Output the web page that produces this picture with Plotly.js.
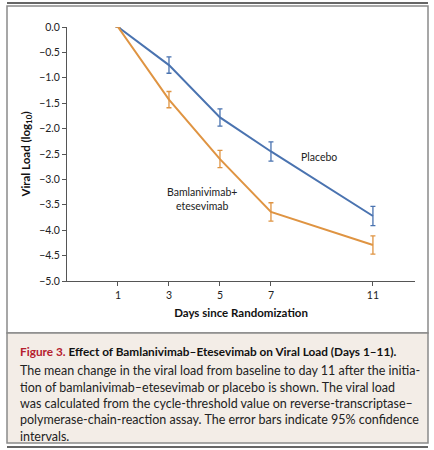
<!DOCTYPE html>
<html>
<head>
<meta charset="utf-8">
<script src="https://cdn.plot.ly/plotly-3.0.1.min.js"></script>
<style>
  html, body { margin: 0; padding: 0; background: #fff; }
  #chart { width: 434px; height: 450px; }
</style>
</head>
<body>
<div id="chart"></div>
<script>
  // values
  const days = [1, 3, 5, 7, 11];
  const placebo = [0, -0.75, -1.78, -2.45, -3.72];
  const placeboCI = [0, 0.16, 0.17, 0.19, 0.19];
  const bamEte = [0, -1.43, -2.60, -3.64, -4.29];
  const bamEteCI = [0, 0.16, 0.17, 0.18, 0.18];

  const captionTitle = "<span style='color:#b5202e'>Figure 3.</span> Effect of Bamlanivimab\u2013Etesevimab on Viral Load (Days 1\u201311).";
  const captionLines = [
    "The mean change in the viral load from baseline to day 11 after the initia-",
    "tion of bamlanivimab\u2013etesevimab or placebo is shown. The viral load",
    "was calculated from the cycle-threshold value on reverse-transcriptase\u2013",
    "polymerase-chain-reaction assay. The error bars indicate 95% confidence",
    "intervals."
  ];

  const blue = '#4a73b0';
  const orange = '#df9442';

  // plot area in pixels
  const L = 67, R = 415, T = 27, B = 281;
  const px = x => (x - L) / (R - L);
  const py = y => (B - y) / (B - T);

  const traces = [
    {
      x: days, y: placebo, type: 'scatter', mode: 'lines',
      line: {color: blue, width: 2},
      error_y: {type: 'data', array: placeboCI, visible: true, color: blue, thickness: 1.3, width: 2.5},
      cliponaxis: false, hoverinfo: 'skip'
    },
    {
      x: days, y: bamEte, type: 'scatter', mode: 'lines',
      line: {color: orange, width: 2},
      error_y: {type: 'data', array: bamEteCI, visible: true, color: orange, thickness: 1.3, width: 2.5},
      cliponaxis: false, hoverinfo: 'skip'
    }
  ];

  const bodyFont = {family: 'Lato, "Open Sans", sans-serif', size: 12.5, color: '#222'};

  const annotations = [
    {x: 8.9, y: -2.56, xref: 'x', yref: 'y', text: 'Placebo', showarrow: false,
     font: {family: 'Lato, sans-serif', size: 10.5, color: '#222'}},
    {x: 4.3, y: -3.39, xref: 'x', yref: 'y', text: 'Bamlanivimab+<br>etesevimab', showarrow: false,
     align: 'center', font: {family: 'Lato, sans-serif', size: 10.5, color: '#222'}},
    {x: px(18), y: py(351), xref: 'paper', yref: 'paper', xanchor: 'left', yanchor: 'middle',
     text: '<b>' + captionTitle + '</b>', showarrow: false,
     font: {family: 'Lato, sans-serif', size: 11.8, color: '#111'}}
  ];
  const lineY = [370, 387, 403, 419, 436];
  captionLines.forEach((t, i) => {
    annotations.push({x: px(18), y: py(lineY[i]), xref: 'paper', yref: 'paper',
      xanchor: 'left', yanchor: 'middle', text: t, showarrow: false, font: bodyFont});
  });

  const shapes = [
    {type: 'rect', xref: 'paper', yref: 'paper', x0: px(7), x1: px(428), y0: py(6), y1: py(333),
     line: {color: '#8a8a8a', width: 1.5}, fillcolor: '#ffffff', layer: 'below'},
    {type: 'rect', xref: 'paper', yref: 'paper', x0: px(7), x1: px(428), y0: py(333), y1: py(443),
     line: {color: '#8a8a8a', width: 1.5}, fillcolor: '#f3ede7', layer: 'below'},
    {type: 'line', xref: 'paper', yref: 'paper', x0: px(7), x1: px(428), y0: py(3), y1: py(3),
     line: {color: '#666', width: 2}},
    {type: 'line', xref: 'paper', yref: 'paper', x0: px(7), x1: px(428), y0: py(447), y1: py(447),
     line: {color: '#666', width: 2}}
  ];

  const axisFont = {family: 'Lato, sans-serif', size: 10.5, color: '#222'};

  const layout = {
    width: 434, height: 450,
    margin: {l: L, r: 434 - R, t: T, b: 450 - B, pad: 0},
    paper_bgcolor: '#fff', plot_bgcolor: 'rgba(0,0,0,0)',
    showlegend: false,
    xaxis: {
      range: [-1, 12.65], tickvals: days, ticktext: days.map(String),
      showline: true, linecolor: '#555', linewidth: 1,
      ticks: 'outside', ticklen: 4, tickcolor: '#555', tickwidth: 1,
      showgrid: false, zeroline: false, tickfont: axisFont,
      title: {text: '<b>Days since Randomization</b>', standoff: 9,
              font: {family: 'Lato, sans-serif', size: 11.5, color: '#111'}}
    },
    yaxis: {
      range: [-5, 0], dtick: 0.5, tick0: 0, tickformat: '.1f',
      showline: true, linecolor: '#555', linewidth: 1,
      ticks: 'outside', ticklen: 4, tickcolor: '#555', tickwidth: 1,
      showgrid: false, zeroline: false, tickfont: axisFont,
      title: {text: '<b>Viral Load (log<sub>10</sub>)</b>', standoff: 6,
              font: {family: 'Lato, sans-serif', size: 11.5, color: '#111'}}
    },
    annotations: annotations,
    shapes: shapes
  };

  Plotly.newPlot('chart', traces, layout, {staticPlot: true});
</script>
</body>
</html>
